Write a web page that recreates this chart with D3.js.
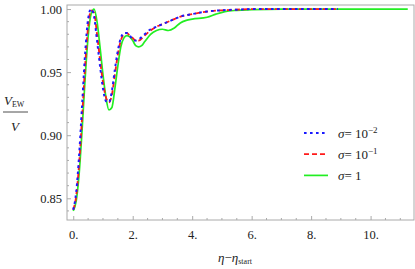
<!DOCTYPE html>
<html>
<head>
<meta charset="utf-8">
<script src="https://cdn.jsdelivr.net/npm/d3@7"></script>
<style>
  body { margin: 0; background: #fff; }
</style>
</head>
<body>
<svg id="chart"></svg>
<script>
// Data
const etaBlue = [0, 0.1, 0.2, 0.3, 0.4, 0.5, 0.6, 0.7, 0.8, 0.9, 1.0, 1.1, 1.2, 1.3, 1.4, 1.5, 1.6, 1.7, 1.8, 1.9, 2.0, 2.1, 2.2, 2.4, 2.6, 2.8, 3.0, 3.3, 3.6, 4.0, 4.5, 5.0, 5.5, 6.0, 7.0, 8.0, 8.9];
const sigma2 = [0.841, 0.855, 0.885, 0.925, 0.965, 0.992, 1.000, 0.994, 0.975, 0.955, 0.937, 0.927, 0.926, 0.935, 0.952, 0.967, 0.977, 0.981, 0.981, 0.979, 0.976, 0.975, 0.976, 0.980, 0.984, 0.986, 0.988, 0.991, 0.994, 0.996, 0.998, 0.999, 0.9995, 1.0, 1.0, 1.0, 1.0];
const sigma1 = [0.841, 0.852, 0.878, 0.915, 0.955, 0.986, 0.999, 0.997, 0.980, 0.960, 0.942, 0.930, 0.926, 0.932, 0.948, 0.964, 0.975, 0.980, 0.981, 0.979, 0.977, 0.975, 0.975, 0.979, 0.983, 0.986, 0.988, 0.991, 0.994, 0.996, 0.998, 0.999, 0.9995, 1.0, 1.0, 1.0, 1.0];
const etaGreen = [0, 0.1, 0.2, 0.3, 0.4, 0.5, 0.6, 0.7, 0.8, 0.9, 1.0, 1.1, 1.2, 1.3, 1.4, 1.5, 1.6, 1.7, 1.8, 1.9, 2.0, 2.1, 2.2, 2.3, 2.4, 2.6, 2.8, 3.0, 3.2, 3.4, 3.6, 3.8, 4.0, 4.5, 4.8, 5.1, 5.5, 6.0, 7.0, 9.0, 11.25];
const sigma0 = [0.840, 0.848, 0.870, 0.905, 0.945, 0.978, 0.996, 1.000, 0.990, 0.970, 0.948, 0.930, 0.920, 0.922, 0.937, 0.955, 0.970, 0.977, 0.979, 0.978, 0.975, 0.971, 0.970, 0.971, 0.974, 0.980, 0.983, 0.984, 0.983, 0.985, 0.989, 0.991, 0.992, 0.9935, 0.996, 0.998, 0.999, 0.9995, 1.0, 1.0, 1.0];

const xTicks = [0, 2, 4, 6, 8, 10];
const yTicks = [0.85, 0.90, 0.95, 1.00];
const legendLabels = [["= 10", "−2"], ["= 10", "−1"], ["= 1", ""]];

const FONT = '"Liberation Serif", "Times New Roman", serif';
const W = 415, H = 269;
const margin = {top: 5, right: 1, bottom: 49, left: 67};
const width = W - margin.left - margin.right;
const height = H - margin.top - margin.bottom;

const svg = d3.select('#chart').attr('width', W).attr('height', H);
const g = svg.append('g').attr('transform', `translate(${margin.left},${margin.top})`);

const x = d3.scaleLinear().domain([-0.21, 11.46]).range([0, width]);
const y = d3.scaleLinear().domain([0.8328, 1.0032]).range([height, 0]);

// frame
g.append('rect').attr('width', width).attr('height', height)
  .attr('fill', 'none').attr('stroke', '#aaa').attr('stroke-width', 1);

// minor ticks
const xMinor = d3.range(0, 11.5, 0.5).filter(v => v % 2 !== 0);
const yMinor = d3.range(0.84, 1.001, 0.01).filter(v => Math.abs(Math.round(v * 100) % 5) !== 0);

const xAxis = d3.axisBottom(x).tickValues(xTicks).tickSize(-4).tickSizeOuter(0).tickPadding(8)
  .tickFormat(d => d + '.');
const yAxis = d3.axisLeft(y).tickValues(yTicks).tickSize(-4).tickSizeOuter(0).tickPadding(5)
  .tickFormat(d3.format('.2f'));

const gx = g.append('g').attr('transform', `translate(0,${height})`).call(xAxis);
const gy = g.append('g').call(yAxis);
[gx, gy].forEach(a => {
  a.attr('font-family', null);
  a.select('.domain').remove();
  a.selectAll('line').attr('stroke', '#aaa');
  a.selectAll('text').attr('font-size', 12.5).attr('fill', '#222');
});
gx.selectAll('text').attr('dy', '0.9em');

g.append('g').selectAll('line').data(xMinor).join('line')
  .attr('x1', d => x(d)).attr('x2', d => x(d))
  .attr('y1', height).attr('y2', height - 2).attr('stroke', '#aaa');
g.append('g').selectAll('line').data(yMinor).join('line')
  .attr('x1', 0).attr('x2', 2)
  .attr('y1', d => y(d)).attr('y2', d => y(d)).attr('stroke', '#aaa');

// curves
const line = d3.line().x(d => x(d[0])).y(d => y(d[1])).curve(d3.curveMonotoneX);
svg.append('clipPath').attr('id', 'clip').append('rect').attr('width', width).attr('height', height);

const series = [
  {xs: etaGreen, ys: sigma0, color: '#22ee22', dash: null, w: 1.7},
  {xs: etaBlue, ys: sigma1, color: '#ff1a1a', dash: '5,3', w: 1.8},
  {xs: etaBlue, ys: sigma2, color: '#1a1aff', dash: '2.6,3.4', w: 2}
];
const plot = g.append('g').attr('clip-path', 'url(#clip)');
series.forEach(s => {
  plot.append('path')
    .attr('d', line(s.xs.map((v, i) => [v, s.ys[i]])))
    .attr('fill', 'none').attr('stroke', s.color).attr('stroke-width', s.w)
    .attr('stroke-dasharray', s.dash);
});

// legend
const legendSeries = [series[2], series[1], series[0]];
const leg = svg.append('g').attr('transform', 'translate(304,133)');
legendSeries.forEach((s, i) => {
  const row = leg.append('g').attr('transform', `translate(0,${i * 21.2})`);
  row.append('line').attr('x1', 0).attr('x2', 24).attr('y1', 0).attr('y2', 0)
    .attr('stroke', s.color).attr('stroke-width', s.w).attr('stroke-dasharray', s.dash);
  const t = row.append('text').attr('x', 34).attr('y', 4.5).attr('font-size', 13).attr('fill', '#222');
  t.append('tspan').attr('font-style', 'italic').text('σ');
  t.append('tspan').text(legendLabels[i][0]);
  if (legendLabels[i][1]) {
    t.append('tspan').attr('font-size', 9).attr('dy', -5).text(legendLabels[i][1]);
  }
});

// y label (fraction)
const yl = svg.append('g');
const num = yl.append('text').attr('x', 4).attr('y', 105).attr('font-size', 13).attr('fill', '#222');
num.append('tspan').attr('font-style', 'italic').text('V');
num.append('tspan').attr('font-size', 8).attr('dy', 2).text('EW');
yl.append('line').attr('x1', 3).attr('x2', 28).attr('y1', 112).attr('y2', 112)
  .attr('stroke', '#222').attr('stroke-width', 0.8);
yl.append('text').attr('x', 11).attr('y', 131).attr('font-size', 13).attr('font-style', 'italic')
  .attr('fill', '#222').text('V');

// x label
const xl = svg.append('text').attr('x', 218).attr('y', 262).attr('font-size', 13).attr('fill', '#222');
xl.append('tspan').attr('font-style', 'italic').text('η');
xl.append('tspan').text('−');
xl.append('tspan').attr('font-style', 'italic').text('η');
xl.append('tspan').attr('font-size', 8).attr('dy', 2).text('start');

// every text in serif
svg.selectAll('text').attr('font-family', FONT);
</script>
</body>
</html>
